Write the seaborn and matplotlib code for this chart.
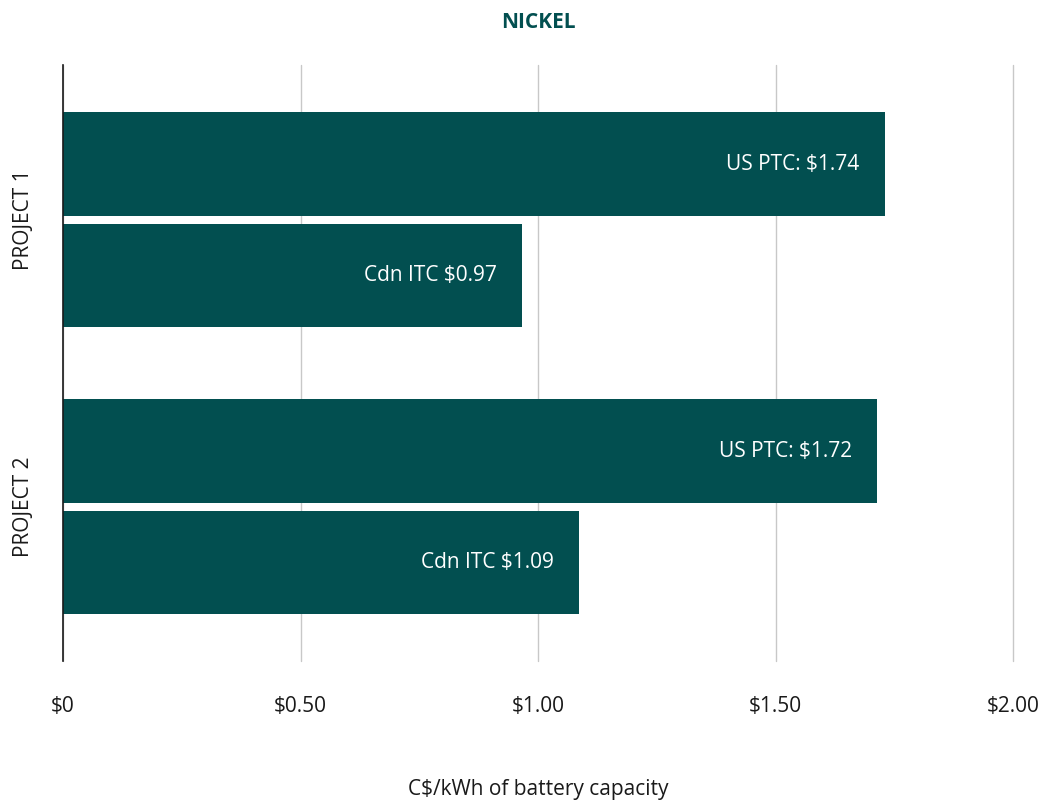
import matplotlib
matplotlib.use("Agg")
import matplotlib.pyplot as plt
import seaborn as sns
import pandas as pd

projects = ["PROJECT 1", "PROJECT 1", "PROJECT 2", "PROJECT 2"]
credits = ["US PTC", "Cdn ITC", "US PTC", "Cdn ITC"]
values = [1.73, 0.966, 1.714, 1.086]
labels = ["US PTC: $1.74", "Cdn ITC $0.97", "US PTC: $1.72", "Cdn ITC $1.09"]
xticks = [0, 0.5, 1.0, 1.5, 2.0]
xticklabels = ["$0", "$0.50", "$1.00", "$1.50", "$2.00"]

TEAL = "#024f50"
FS = 15

sns.set_theme(style="white")
plt.rcParams["font.family"] = ["Open Sans", "DejaVu Sans"]

df = pd.DataFrame({"project": projects, "credit": credits, "value": values})

fig = plt.figure(figsize=(10.58, 8.06), dpi=100)
ax = fig.add_axes([63 / 1058, 1 - 661 / 806, 950 / 1058, 596 / 806])

sns.barplot(data=df, y="project", x="value", hue="credit",
            hue_order=["US PTC", "Cdn ITC"],
            palette=[TEAL, TEAL], width=0.7745, gap=0.066, linewidth=0,
            legend=False, ax=ax, orient="h", saturation=1, errorbar=None)

ax.set_xlim(0, 2.0)
ax.set_ylim(1.537, -0.54)

# labels inside bars, right-aligned
bars = sorted([p for p in ax.patches], key=lambda p: p.get_y())
for p, lab in zip(bars, labels):
    ax.annotate(lab, xy=(p.get_width(), p.get_y() + p.get_height() / 2),
                xytext=(-18, 0), textcoords="offset points",
                ha="right", va="center", color="white", fontsize=FS)

ax.set_xticks(xticks)
ax.set_xticklabels(xticklabels)
ax.tick_params(axis="x", length=0, pad=25, labelsize=FS, colors="#1a1a1a")
ax.tick_params(axis="y", length=0, pad=21, labelsize=FS, colors="#1a1a1a")
for t in ax.get_yticklabels():
    t.set_rotation(90)
    t.set_va("center")
ax.set_ylabel("")
ax.set_xlabel("C$/kWh of battery capacity", fontsize=FS, color="#1a1a1a", labelpad=45)

ax.grid(axis="x", color="#c8c8c8", linewidth=1)
for gl in ax.get_xgridlines():
    gl.set_clip_on(False)
ax.set_axisbelow(True)
for s in ["top", "right", "bottom"]:
    ax.spines[s].set_visible(False)
ax.spines["left"].set_color("#1a1a1a")
ax.spines["left"].set_linewidth(1.2)

ax.set_title("NICKEL", fontsize=FS, fontweight="bold", color=TEAL, pad=27)

fig.savefig("out.png", dpi=100, facecolor="white")
